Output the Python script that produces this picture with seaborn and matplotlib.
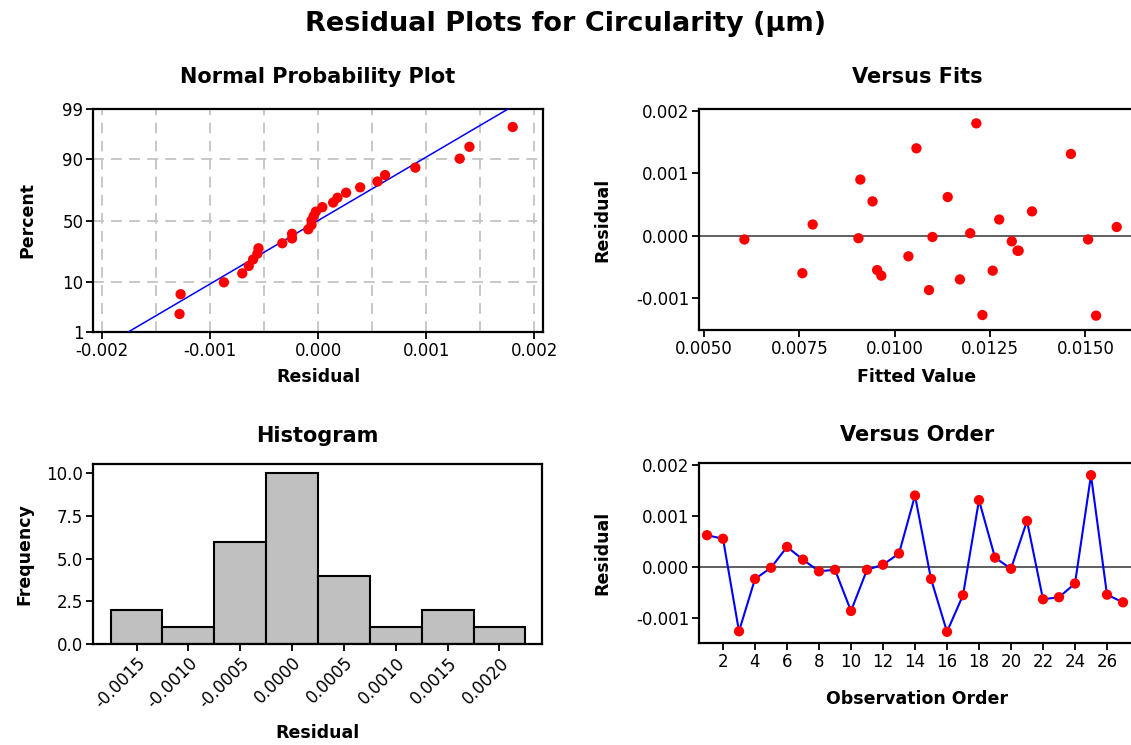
import numpy as np
import pandas as pd
import matplotlib
matplotlib.use("Agg")
import matplotlib.pyplot as plt
from matplotlib.ticker import FormatStrFormatter
import seaborn as sns
from statistics import NormalDist

# Residuals of the circularity model, in observation order
observation = list(range(1, 28))
residual = [0.00062, 0.00055, -0.00127, -0.00024, -0.00002, 0.00039, 0.00014,
            -0.00009, -0.00006, -0.00087, -0.00006, 0.00004, 0.00026, 0.00140,
            -0.00024, -0.00128, -0.00056, 0.00131, 0.00018, -0.00004, 0.00090,
            -0.00064, -0.00060, -0.00033, 0.00180, -0.00055, -0.00070]
fitted = [0.01139, 0.00942, 0.01230, 0.01322, 0.01099, 0.01360, 0.01582,
          0.01307, 0.00606, 0.01090, 0.01507, 0.01198, 0.01274, 0.01057,
          0.01325, 0.01528, 0.01257, 0.01462, 0.00785, 0.00905, 0.00910,
          0.00965, 0.00758, 0.01036, 0.01214, 0.00954, 0.01171]

prob_ticks = [1, 10, 50, 90, 99]
np_xticks = [-0.002, -0.001, 0.000, 0.001, 0.002]
fit_xticks = [0.0050, 0.0075, 0.0100, 0.0125, 0.0150]
res_yticks = [-0.001, 0.000, 0.001, 0.002]
hist_xticks = [-0.0015, -0.0010, -0.0005, 0.0000, 0.0005, 0.0010, 0.0015, 0.0020]
hist_yticks = [0.0, 2.5, 5.0, 7.5, 10.0]
order_xticks = list(range(2, 27, 2))

df = pd.DataFrame({"Observation": observation, "Residual": residual, "Fit": fitted})

sns.set_theme(style="white")
plt.rcParams["font.family"] = ["DejaVu Sans"]
plt.rcParams["text.color"] = "black"
plt.rcParams["axes.labelcolor"] = "black"
plt.rcParams["axes.titlecolor"] = "black"
plt.rcParams["axes.edgecolor"] = "black"
plt.rcParams["axes.linewidth"] = 1.6

W, H = 1131, 745
fig = plt.figure(figsize=(W / 100, H / 100), dpi=100)
fig.patch.set_facecolor("white")


def box(l, t, r, b):
    return [l / W, 1 - b / H, (r - l) / W, (b - t) / H]


ax_np = fig.add_axes(box(93, 109, 543, 332))
ax_fit = fig.add_axes(box(699, 109, 1135, 330))
ax_hist = fig.add_axes(box(93, 464, 542, 644))
ax_ord = fig.add_axes(box(699, 463, 1135, 643))

TICK_FS = 12
LAB_FS = 12.5
TITLE_FS = 15

for ax in (ax_np, ax_fit, ax_hist, ax_ord):
    ax.tick_params(axis="both", which="major", bottom=True, left=True,
                   length=5, width=1.3, color="black", labelsize=TICK_FS,
                   labelcolor="black", pad=2)
    for s in ax.spines.values():
        s.set_color("black")
        s.set_linewidth(1.6)

red = "#ff0000"
blue = "#0000ff"

# ---- Normal probability plot ----
nd = NormalDist()
srt = np.sort(df["Residual"].values)
n = len(srt)
pct = (np.arange(1, n + 1) - 0.3) / (n + 0.4)
prob_df = pd.DataFrame({"Residual": srt, "z": [nd.inv_cdf(p) for p in pct]})
mu = df["Residual"].mean()
sd = df["Residual"].std(ddof=1)
zline = np.linspace(nd.inv_cdf(0.002), nd.inv_cdf(0.998), 60)
line_df = pd.DataFrame({"Residual": mu + sd * zline, "z": zline})

ax_np.set_xticks(np.arange(-0.002, 0.00201, 0.0005), minor=True)
ax_np.grid(True, which="both", axis="x", color="#c4c4c4", linestyle=(0, (6, 4)), linewidth=1.3)
ax_np.grid(True, which="major", axis="y", color="#c4c4c4", linestyle=(0, (6, 4)), linewidth=1.3)
ax_np.tick_params(axis="x", which="minor", length=0)
sns.lineplot(data=line_df, x="Residual", y="z", ax=ax_np, color=blue, linewidth=1.1,
             sort=False, estimator=None, zorder=3)
sns.scatterplot(data=prob_df, x="Residual", y="z", ax=ax_np, color=red, s=55,
                edgecolor="none", zorder=4)
ax_np.set_xlim(-0.00208, 0.00208)
ax_np.set_ylim(nd.inv_cdf(0.01), nd.inv_cdf(0.99))
ax_np.set_yticks([nd.inv_cdf(p / 100) for p in prob_ticks])
ax_np.set_yticklabels([str(p) for p in prob_ticks])
ax_np.set_xticks(np_xticks)
ax_np.xaxis.set_major_formatter(FormatStrFormatter("%.3f"))
ax_np.set_axisbelow(True)
ax_np.set_title("Normal Probability Plot", fontsize=TITLE_FS, fontweight="bold", pad=19)
ax_np.set_xlabel("Residual", fontsize=LAB_FS, fontweight="bold", labelpad=6)
ax_np.set_ylabel("Percent", fontsize=LAB_FS, fontweight="bold")
ax_np.yaxis.set_label_coords(-0.125, 0.5)

# ---- Versus fits ----
ax_fit.axhline(0, color="#333333", linewidth=1.1, zorder=1)
sns.scatterplot(data=df, x="Fit", y="Residual", ax=ax_fit, color=red, s=55,
                edgecolor="none", zorder=3)
ax_fit.set_xlim(0.00487, 0.0163)
ax_fit.set_ylim(-0.00151, 0.00203)
ax_fit.set_xticks(fit_xticks)
ax_fit.set_yticks(res_yticks)
ax_fit.xaxis.set_major_formatter(FormatStrFormatter("%.4f"))
ax_fit.yaxis.set_major_formatter(FormatStrFormatter("%.3f"))
ax_fit.set_title("Versus Fits", fontsize=TITLE_FS, fontweight="bold", pad=19)
ax_fit.set_xlabel("Fitted Value", fontsize=LAB_FS, fontweight="bold", labelpad=7.5)
ax_fit.set_ylabel("Residual", fontsize=LAB_FS, fontweight="bold")
ax_fit.yaxis.set_label_coords(-0.2, 0.5)

# ---- Histogram ----
edges = np.linspace(-0.00175, 0.00225, 9)
sns.histplot(data=df, x="Residual", bins=edges, ax=ax_hist, color="#c0c0c0",
             edgecolor="black", linewidth=1.5, alpha=1.0)
ax_hist.set_xlim(-0.00192, 0.00241)
ax_hist.set_ylim(0, 10.55)
ax_hist.set_xticks(hist_xticks)
ax_hist.set_xticklabels([f"{v:.4f}" for v in hist_xticks], rotation=45,
                        ha="right", rotation_mode="anchor")
ax_hist.set_yticks(hist_yticks)
ax_hist.yaxis.set_major_formatter(FormatStrFormatter("%.1f"))
ax_hist.set_title("Histogram", fontsize=TITLE_FS, fontweight="bold", pad=16)
ax_hist.set_xlabel("Residual", fontsize=LAB_FS, fontweight="bold", labelpad=9)
ax_hist.set_ylabel("Frequency", fontsize=LAB_FS, fontweight="bold")
ax_hist.yaxis.set_label_coords(-0.133, 0.5)

# ---- Versus order ----
ax_ord.axhline(0, color="#333333", linewidth=1.1, zorder=1)
sns.lineplot(data=df, x="Observation", y="Residual", ax=ax_ord, color=blue,
             linewidth=1.5, zorder=2)
sns.scatterplot(data=df, x="Observation", y="Residual", ax=ax_ord, color=red, s=55,
                edgecolor="none", zorder=3)
ax_ord.set_xlim(0.5, 27.75)
ax_ord.set_ylim(-0.0015, 0.00204)
ax_ord.set_xticks(order_xticks)
ax_ord.set_yticks(res_yticks)
ax_ord.yaxis.set_major_formatter(FormatStrFormatter("%.3f"))
ax_ord.set_title("Versus Order", fontsize=TITLE_FS, fontweight="bold", pad=16)
ax_ord.set_xlabel("Observation Order", fontsize=LAB_FS, fontweight="bold", labelpad=14)
ax_ord.set_ylabel("Residual", fontsize=LAB_FS, fontweight="bold")
ax_ord.yaxis.set_label_coords(-0.2, 0.5)

fig.suptitle("Residual Plots for Circularity (µm)", fontsize=19.5, fontweight="bold",
             x=0.5, y=0.985, va="top")

fig.savefig("out.png", dpi=100, facecolor="white")
